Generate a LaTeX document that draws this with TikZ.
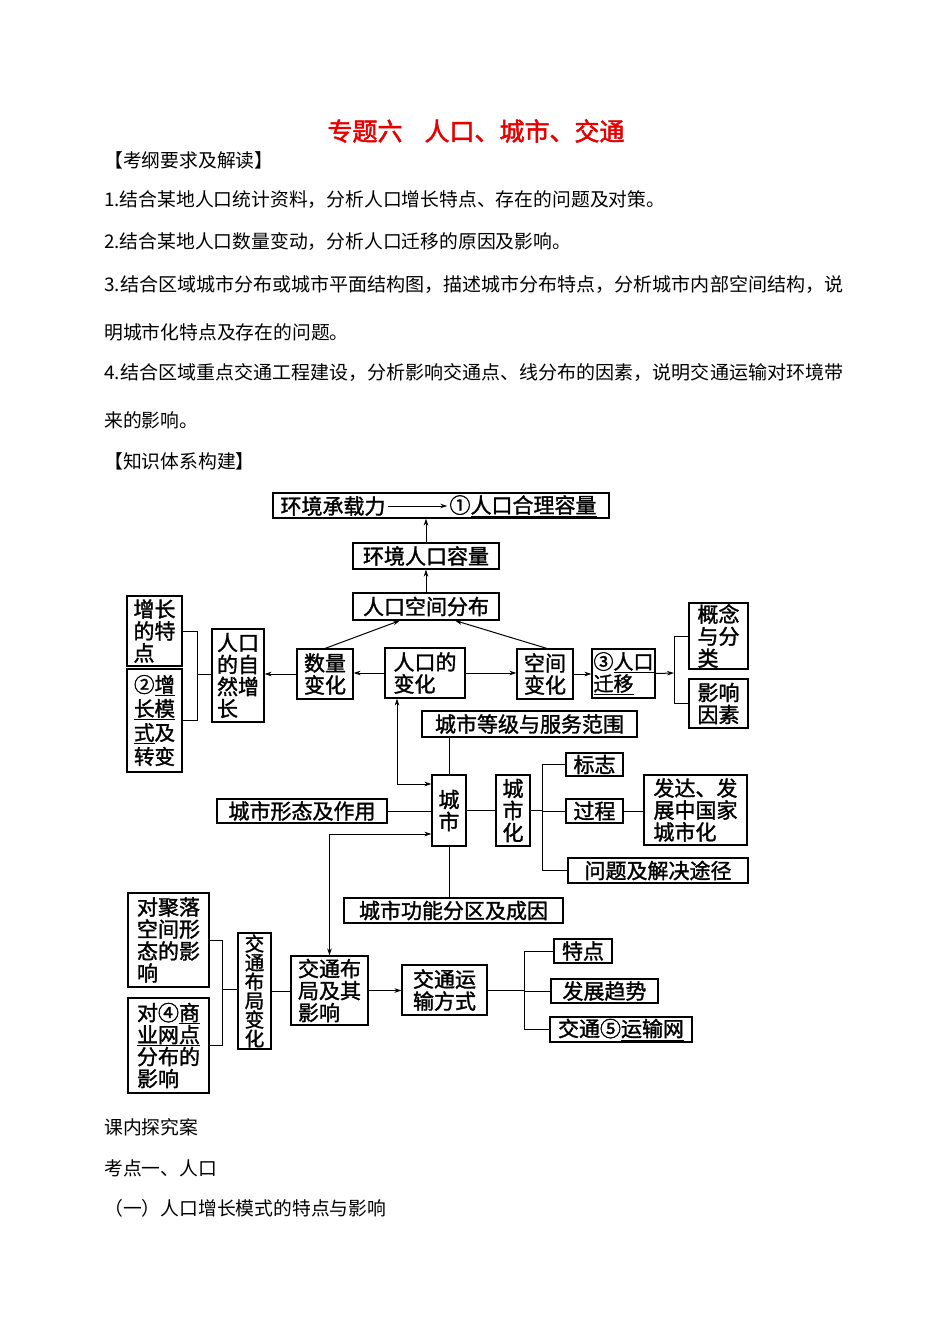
\documentclass[tikz,border=0pt]{standalone}
\usepackage{fontspec}
\usepackage{graphicx}
\setmainfont{Noto Sans CJK SC}
\newfontfamily\dfont{Noto Sans CJK SC}[FakeBold=1.5]
\newfontfamily\tfont{Noto Sans CJK SC}[FakeBold=2]
\usetikzlibrary{arrows.meta,calc}
\definecolor{titlered}{RGB}{230,0,0}
\newcommand\ul[1]{\underline{#1}}
\tikzset{
  bx/.style={draw, line width=1.1pt, inner sep=0pt, align=left,
    font=\dfont\fontsize{21}{22}\selectfont},
  ln/.style={line width=1pt},
  arr/.style={ln, -{Stealth[length=7pt,width=4.5pt]}},
  arrb/.style={ln, {Stealth[length=7pt,width=4.5pt]}-{Stealth[length=7pt,width=4.5pt]}},
  body/.style={anchor=west, inner sep=0pt, font=\fontsize{18.8}{22}\selectfont},
  intext/.style={inner sep=2pt, font=\dfont\fontsize{21}{22}\selectfont},
}
\newcommand\bx[7][]{\node[bx,#1, minimum width={#5-#3}, minimum height={#6-#4}] (#2) at ({(#3+#5)/2},{(#4+#6)/2}) {#7};}
\begin{document}
\begin{tikzpicture}[x=1pt,y=-1pt]
\fill[white] (0,0) rectangle (950,1342);
\useasboundingbox (0,0) rectangle (950,1342);

% ---- heading and body text
\node[font=\tfont\fontsize{25}{25}\selectfont, text=titlered, inner sep=0pt] (title) at (476,131) {专题六\hspace{22pt}人口、城市、交通};
\node[body] (h1) at (104,160) {【考纲要求及解读】};
\node[body] (l1) at (104,200) {\resizebox{561pt}{\height}{1.结合某地人口统计资料，分析人口增长特点、存在的问题及对策。}};
\node[body] (l2) at (104,242) {2.结合某地人口数量变动，分析人口迁移的原因及影响。};
\node[body] (l3) at (104,285) {\resizebox{739pt}{\height}{3.结合区域城市分布或城市平面结构图，描述城市分布特点，分析城市内部空间结构，说}};
\node[body] (l3b) at (104,332) {明城市化特点及存在的问题。};
\node[body] (l4) at (104,373) {\resizebox{739pt}{\height}{4.结合区域重点交通工程建设，分析影响交通点、线分布的因素，说明交通运输对环境带}};
\node[body] (l4b) at (104,420) {来的影响。};
\node[body] (h2) at (104,461) {【知识体系构建】};
\node[body] (b1) at (104,1127) {课内探究案};
\node[body] (b2) at (104,1168) {考点一、人口};
\node[body] (b3) at (104,1208) {（一）人口增长模式的特点与影响};

% ---- population part
\bx{cap}{273}{493}{609}{518}{}
\node[intext] (ta) at (333,506) {环境承载力};
\node[intext] (tb) at (523,506) {①\ul{人口合理容量}};
\draw[arr] (ta) -- (tb);
\bx{env}{353}{543}{499}{569}{环境人口容量}
\bx{dist}{353}{593}{499}{620}{人口空间分布}
\bx{grow1}{127}{596}{182}{666}{增长\\的特\\点}
\bx[font=\dfont\fontsize{20.5}{24}\selectfont]{grow2}{127}{669}{182}{772}{②\ul{增}\\\ul{长模}\\\ul{式}及\\转变}
\bx{nat}{212}{629}{264}{722}{人口\\的自\\然增\\长}
\bx{qty}{297}{649}{353}{699}{数量\\变化}
\bx{chg}{385}{648}{465}{698}{人口的\\变化}
\bx{spc}{517}{649}{573}{699}{空间\\变化}
\bx[font=\dfont\fontsize{20}{22}\selectfont]{mig}{592}{649}{655}{698}{③\ul{人口}\\\ul{迁移}}
\bx{con}{689}{603}{748}{669}{概念\\与分\\类}
\bx{fac}{689}{679}{748}{728}{影响\\因素}

\draw[arr] (env.north) -- (env.north |- cap.south);
\draw[arr] (dist.north) -- (env.south);
\draw[arr] (qty.north) -- ([xshift=-26pt]dist.south);
\draw[arr] ([xshift=2pt]spc.north) -- ([xshift=29pt]dist.south);
\draw[arr] (chg.west) -- (chg.west -| qty.east);
\draw[arr] (qty.west) -- (qty.west -| nat.east);
\coordinate (j1) at (197,674);
\draw[ln] (grow1.east) -- (grow1.east -| j1) -- (grow2.east -| j1) -- (grow2.east);
\draw[ln] (j1) -- (j1 -| nat.west);
\draw[arr] (chg.east) -- (chg.east -| spc.west);
\draw[arr] (spc.east) -- (spc.east -| mig.west);
\coordinate (j2) at (674,673);
\draw[arr] (mig.east) -- (j2);
\draw[ln] (con.west) -- (con.west -| j2) -- (fac.west -| j2) -- (fac.west);

% ---- city part
\bx{lvl}{422}{711}{637}{737}{城市等级与服务范围}
\bx{city}{432}{775}{466}{846}{城\\市}
\bx{form}{217}{799}{387}{823}{城市形态及作用}
\bx{urb}{496}{775}{530}{846}{城\\市\\化}
\bx{sign}{566}{753}{623}{776}{标志}
\bx{proc}{566}{799}{623}{823}{过程}
\bx{dev}{644}{775}{747}{845}{发达、发\\展中国家\\城市化}
\bx{prob}{568}{858}{748}{883}{问题及解决途径}
\bx{func}{344}{898}{563}{923}{城市功能分区及成因}

\draw[ln] (city.north) -- (city.north |- lvl.south);
\coordinate (c1) at (397,784);
\draw[arrb] (chg.south -| c1) -- (c1) -- (c1 -| city.west);
\draw[ln] (form.east) -- (form.east -| city.west);
\draw[ln] (city.east) -- (city.east -| urb.west);
\coordinate (j3) at (542,811);
\draw[ln] (urb.east) -- (urb.east -| j3);
\draw[ln] (sign.west) -- (sign.west -| j3) -- (prob.west -| j3) -- (prob.west);
\draw[ln] (proc.west -| j3) -- (proc.west);
\draw[ln] (proc.east) -- (proc.east -| dev.west);
\draw[ln] (city.south) -- (city.south |- func.north);

% ---- transport part
\bx{set}{128}{893}{209}{987}{对聚落\\空间形\\态的影\\响}
\bx{biz}{128}{998}{209}{1093}{对④\ul{商}\\\ul{业网点}\\分布的\\影响}
\bx[font=\dfont\fontsize{19.5}{19}\selectfont]{tch}{238}{933}{271}{1049}{交\\通\\布\\局\\变\\化}
\bx{tlay}{291}{956}{368}{1025}{交通布\\局及其\\影响}
\bx{tmode}{402}{965}{487}{1015}{交通运\\输方式}
\bx{tfeat}{554}{939}{612}{963}{特点}
\bx{ttrend}{551}{979}{658}{1003}{发展趋势}
\bx{tnet}{550}{1017}{692}{1042}{交通⑤\ul{运输网}}

\coordinate (c2) at (327,834);
\draw[arrb] (tlay.north) -- (tlay.north |- c2) -- (c2 -| city.west);
\coordinate (j4) at (222,989);
\draw[ln] (set.east) -- (set.east -| j4) -- (biz.east -| j4) -- (biz.east);
\draw[ln] (j4) -- (j4 -| tch.west);
\draw[ln] (tch.east) -- (tch.east -| tlay.west);
\draw[arr] (tlay.east) -- (tlay.east -| tmode.west);
\coordinate (j5) at (524,990);
\draw[ln] (tmode.east) -- (j5);
\draw[ln] (tfeat.west) -- (tfeat.west -| j5) -- (tnet.west -| j5) -- (tnet.west);
\draw[ln] (ttrend.west -| j5) -- (ttrend.west);
\end{tikzpicture}
\end{document}
